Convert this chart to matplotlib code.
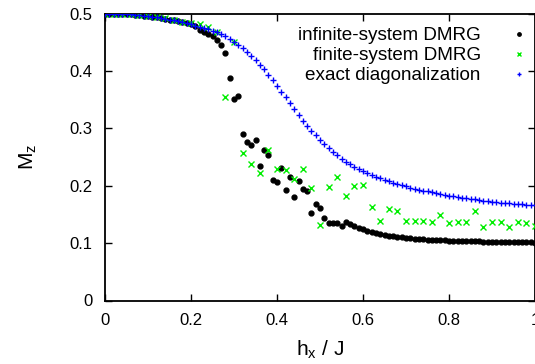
import numpy as np
import matplotlib
matplotlib.use("Agg")
import matplotlib.pyplot as plt

plt.rcParams['font.family'] = ['Liberation Sans', 'DejaVu Sans']
plt.rcParams['mathtext.default'] = 'regular'

# field values (h_x / J)
h_fine = np.linspace(0.0, 1.0, 101)
h_coarse = np.linspace(0.0, 1.0, 51)

# magnetisation from infinite-system DMRG, step 0.01
mz_infinite = [
    0.5000, 0.5000, 0.4999, 0.4997, 0.4994, 0.4990, 0.4985, 0.4979, 0.4972, 0.4964,
    0.4955, 0.4945, 0.4934, 0.4922, 0.4909, 0.4895, 0.4880, 0.4864, 0.4847, 0.4830,
    0.4815, 0.4780, 0.4720, 0.4680, 0.4650, 0.4610, 0.4540, 0.4446, 0.4307, 0.3880,
    0.3510, 0.3560, 0.2900, 0.2756, 0.2704, 0.2790, 0.2343, 0.2617, 0.2540, 0.2100,
    0.2064, 0.2300, 0.1920, 0.2150, 0.1800, 0.2077, 0.1937, 0.1905, 0.1524, 0.1680,
    0.1617, 0.1430, 0.1345, 0.1350, 0.1350, 0.1300, 0.1360, 0.1333, 0.1298, 0.1270,
    0.1240, 0.1210, 0.1195, 0.1180, 0.1160, 0.1146, 0.1124, 0.1118, 0.1106, 0.1100,
    0.1090, 0.1083, 0.1077, 0.1072, 0.1067, 0.1062, 0.1058, 0.1054, 0.1050, 0.1047,
    0.1044, 0.1041, 0.1038, 0.1036, 0.1034, 0.1032, 0.1030, 0.1028, 0.1026, 0.1024,
    0.1022, 0.1021, 0.1019, 0.1018, 0.1016, 0.1015, 0.1014, 0.1013, 0.1012, 0.1011,
    0.1010,
]

# magnetisation from finite-system DMRG, step 0.02
mz_finite = [
    0.5000, 0.4999, 0.4994, 0.4986, 0.4974, 0.4958, 0.4938, 0.4914, 0.4888, 0.4860,
    0.4832, 0.4817, 0.4760, 0.4680, 0.3545, 0.4510, 0.2564, 0.2373, 0.2227, 0.2620,
    0.2286, 0.2273, 0.2110, 0.2286, 0.1960, 0.1315, 0.1970, 0.2160, 0.1815, 0.1995,
    0.2013, 0.1627, 0.1385, 0.1589, 0.1560, 0.1385, 0.1385, 0.1385, 0.1360, 0.1490,
    0.1345, 0.1375, 0.1375, 0.1560, 0.1275, 0.1368, 0.1368, 0.1286, 0.1368, 0.1345,
    0.1290,
]

# magnetisation from exact diagonalization, step 0.01
mz_exact = [
    0.5000, 0.5000, 0.4999, 0.4997, 0.4994, 0.4990, 0.4985, 0.4979, 0.4972, 0.4964,
    0.4955, 0.4945, 0.4934, 0.4922, 0.4909, 0.4895, 0.4880, 0.4864, 0.4847, 0.4829,
    0.4810, 0.4790, 0.4769, 0.4747, 0.4724, 0.4700, 0.4672, 0.4640, 0.4604, 0.4555,
    0.4505, 0.4450, 0.4392, 0.4330, 0.4263, 0.4190, 0.4110, 0.4025, 0.3935, 0.3840,
    0.3740, 0.3640, 0.3538, 0.3435, 0.3330, 0.3225, 0.3130, 0.3042, 0.2958, 0.2875,
    0.2797, 0.2725, 0.2655, 0.2590, 0.2528, 0.2470, 0.2418, 0.2370, 0.2327, 0.2290,
    0.2257, 0.2223, 0.2190, 0.2160, 0.2130, 0.2102, 0.2076, 0.2052, 0.2030, 0.2008,
    0.1988, 0.1968, 0.1950, 0.1932, 0.1916, 0.1900, 0.1885, 0.1870, 0.1856, 0.1842,
    0.1829, 0.1816, 0.1804, 0.1792, 0.1781, 0.1770, 0.1760, 0.1750, 0.1741, 0.1732,
    0.1723, 0.1715, 0.1707, 0.1700, 0.1693, 0.1686, 0.1679, 0.1673, 0.1667, 0.1661,
    0.1656,
]

x_ticks = [0.0, 0.2, 0.4, 0.6, 0.8, 1.0]
x_ticklabels = ["0", "0.2", "0.4", "0.6", "0.8", "1"]
y_ticks = [0.0, 0.1, 0.2, 0.3, 0.4, 0.5]
y_ticklabels = ["0", "0.1", "0.2", "0.3", "0.4", "0.5"]

fig = plt.figure(figsize=(5.35, 3.64), dpi=100)
ax = fig.add_axes([105 / 535, 1 - 300.5 / 364, 430 / 535, 287 / 364])

ax.plot(h_fine, mz_infinite, linestyle="none", marker="o", ms=3.5,
        color="black", mec="black", label="infinite-system DMRG", zorder=3)
ax.plot(h_coarse, mz_finite, linestyle="none", marker="x", ms=4.2, mew=1.0,
        color="#00ee00", label="finite-system DMRG", zorder=4)
ax.plot(h_fine, mz_exact, linestyle="none", marker="+", ms=5.0, mew=1.0,
        color="#0000ff", label="exact diagonalization", zorder=5)

ax.set_xlim(0, 1)
ax.set_ylim(0, 0.5)
ax.set_xticks(x_ticks)
ax.set_xticklabels(x_ticklabels)
ax.set_yticks(y_ticks)
ax.set_yticklabels(y_ticklabels)
ax.tick_params(direction="in", length=5, width=1.0, top=True, right=True,
               labelsize=12, pad=9, colors="black")
for sp in ax.spines.values():
    sp.set_linewidth(1.3)

ax.set_xlabel("h$_x$ / J", fontsize=15, labelpad=8)
ax.set_ylabel("M$_z$", fontsize=15, labelpad=22)

# markerfirst=False packs each row right-aligned, text then marker
leg = ax.legend(loc="upper right", bbox_to_anchor=(0.988, 0.952),
                frameon=False, markerfirst=False, fontsize=13.6,
                handlelength=1.2, handletextpad=1.4, labelspacing=0.14,
                borderpad=0, borderaxespad=0, markerscale=0.7)

fig.savefig("out.png", dpi=100)
